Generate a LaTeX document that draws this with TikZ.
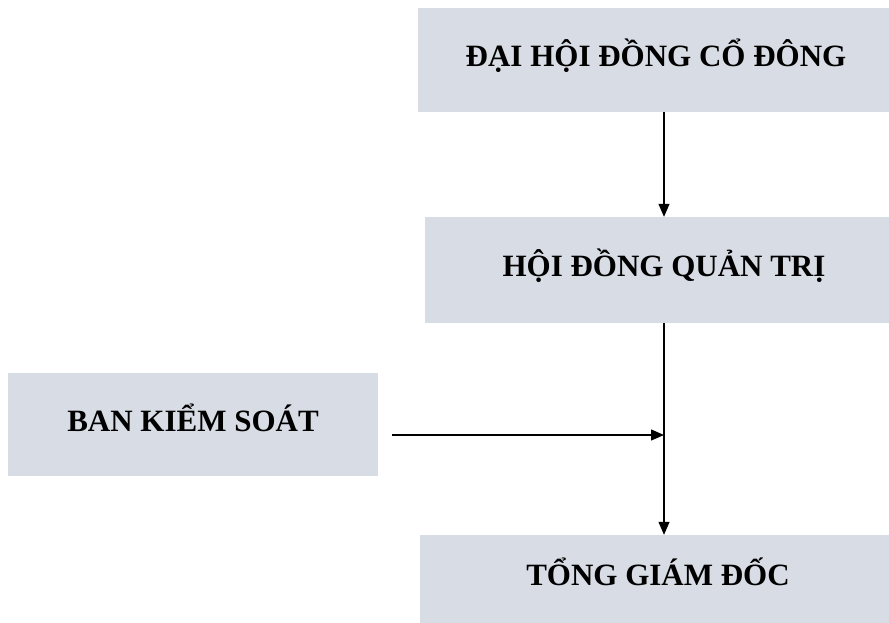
\documentclass[tikz,border=0pt]{standalone}
\usepackage{fontspec}
\setmainfont{Liberation Serif}
\usetikzlibrary{arrows.meta,calc}
\definecolor{BoxClr}{RGB}{216,220,228}

\begin{document}
\begin{tikzpicture}[x=1pt,y=-1pt,
  box/.style={fill=BoxClr,inner sep=0pt,text height=24pt,text depth=11pt,
    font=\fontsize{31}{36}\selectfont\bfseries},
  arr/.style={line width=1.2pt,-{Triangle[width=11pt,length=13pt]}}]
\useasboundingbox (0,0) rectangle (889,623);

\node[box,minimum width=471pt,minimum height=104pt] (DHCD) at (653.5,60) {\hspace*{5pt}ĐẠI HỘI ĐỒNG CỔ ĐÔNG};
\node[box,minimum width=464pt,minimum height=106pt] (HDQT) at (657,270) {\hspace*{14pt}HỘI ĐỒNG QUẢN TRỊ};
\node[box,minimum width=370pt,minimum height=103pt] (BKS) at (193,424.5) {BAN KIỂM SOÁT};
\node[box,minimum width=469pt,minimum height=88pt] (TGD) at (654.5,579) {\hspace*{7pt}TỔNG GIÁM ĐỐC};

\coordinate (col) at (664,0);
\coordinate (J) at (664,435);
\coordinate (S) at (392,435);

\draw[arr] (DHCD.south -| col) -- (HDQT.north -| col);
\draw[arr] (HDQT.south -| col) -- (TGD.north -| col);
\draw[arr] (S) -- (J);

\end{tikzpicture}
\end{document}
